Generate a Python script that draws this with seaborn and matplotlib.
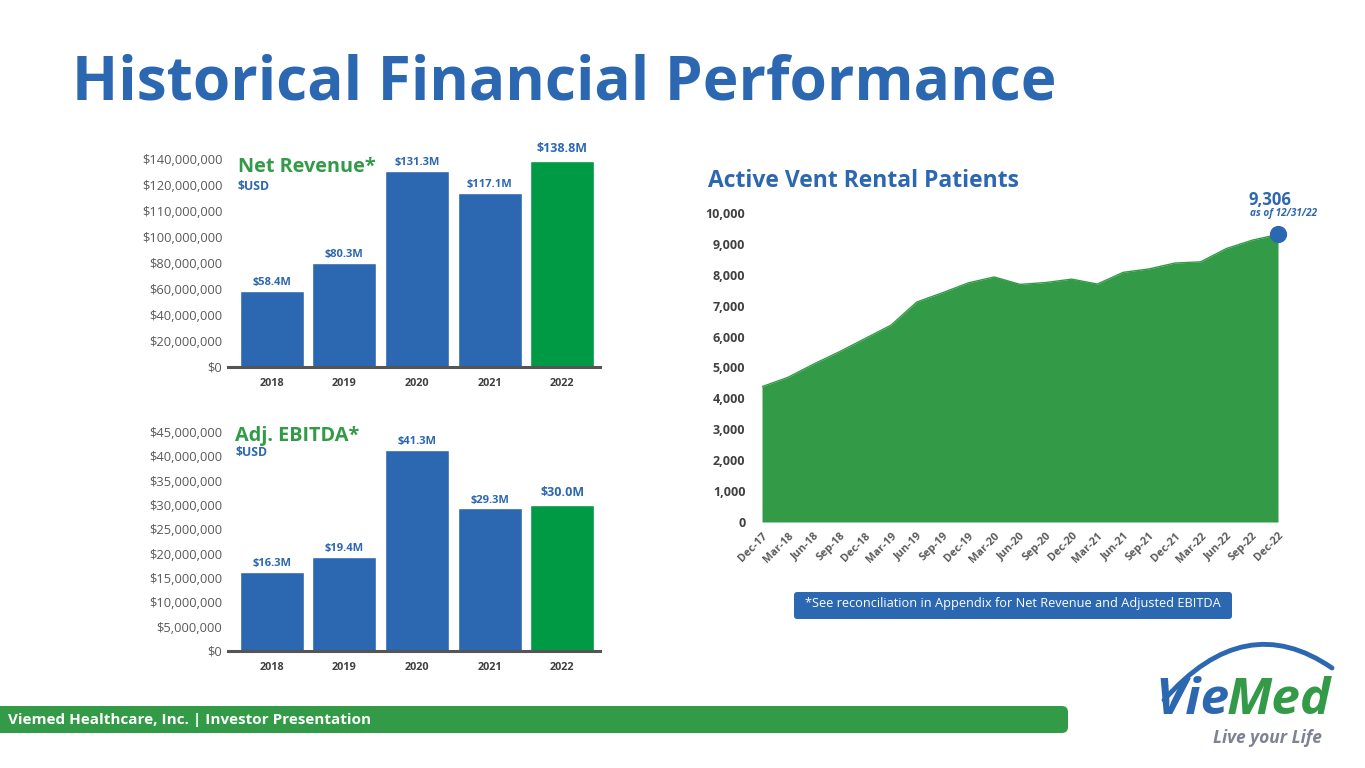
import numpy as np
import seaborn as sns
import matplotlib.pyplot as plt
from matplotlib.patches import FancyBboxPatch, PathPatch
from matplotlib.path import Path

sns.set_theme(style="white")
plt.rcParams['font.family'] = ['Open Sans', 'DejaVu Sans']

# data
years = ["2018", "2019", "2020", "2021", "2022"]
revenue_m = [58.4, 80.3, 131.3, 117.1, 138.8]
revenue_labels = ["$58.4M", "$80.3M", "$131.3M", "$117.1M", "$138.8M"]
ebitda_m = [16.3, 19.4, 41.3, 29.3, 30.0]
ebitda_labels = ["$16.3M", "$19.4M", "$41.3M", "$29.3M", "$30.0M"]

quarters = ["Dec-17", "Mar-18", "Jun-18", "Sep-18", "Dec-18", "Mar-19", "Jun-19",
            "Sep-19", "Dec-19", "Mar-20", "Jun-20", "Sep-20", "Dec-20", "Mar-21",
            "Jun-21", "Sep-21", "Dec-21", "Mar-22", "Jun-22", "Sep-22", "Dec-22"]
patients = [4380, 4680, 5110, 5510, 5940, 6370, 7120, 7420, 7740, 7930, 7690,
            7750, 7860, 7700, 8080, 8190, 8380, 8420, 8850, 9120, 9306]

# revenue axis labels as printed on the slide (uneven steps)
rev_ticks = [0, 20, 40, 60, 80, 100, 110, 120, 140]

BLUE = "#2C67B1"
GREEN = "#339B48"
BAR_GREEN = "#009A44"
GRAY = "#595959"
DARK = "#404040"

W, H = 1365, 768
fig = plt.figure(figsize=(W / 100, H / 100), dpi=100)


def px_axes(left, top, right, bottom):
    return fig.add_axes([left / W, 1 - bottom / H, (right - left) / W, (bottom - top) / H])


bar_colors = [BLUE, BLUE, BLUE, BLUE, BAR_GREEN]


def bar_panel(ax, vals, labels, head, head_xy, usd_xy):
    sns.barplot(x=years, y=vals, hue=years, palette=bar_colors, legend=False,
                width=0.88, saturation=1, ax=ax)
    for i, cont in enumerate(ax.containers):
        last = i == len(ax.containers) - 1
        ax.bar_label(cont, labels=[labels[i]], padding=4 if last else 2,
                     fontsize=9 if last else 8, fontweight="bold", color=BLUE)
    ax.set_xlim(-0.6, 4.52)
    ax.set_xlabel("")
    ax.set_ylabel("")
    for s in ["top", "right", "left"]:
        ax.spines[s].set_visible(False)
    ax.spines["bottom"].set_color("#555555")
    ax.spines["bottom"].set_linewidth(2.2)
    ax.tick_params(axis="x", length=0, pad=8, labelsize=7.8, labelcolor=DARK)
    for t in ax.get_xticklabels():
        t.set_fontweight("bold")
    ax.tick_params(axis="y", length=0, pad=4, labelsize=9.3, labelcolor=GRAY)
    ax.patch.set_visible(False)
    fig.text(head_xy[0] / W, 1 - head_xy[1] / H, head, color=GREEN, fontsize=14.3,
             fontweight="bold", va="center")
    fig.text(usd_xy[0] / W, 1 - usd_xy[1] / H, "$USD", color=BLUE, fontsize=8.8,
             fontweight="bold", va="center")


# --- Net revenue (axis labels are unevenly stepped) ---
kv = [0, 100, 110, 120, 140, 160]
kp = [0, 5, 6, 7, 8, 9]
ax1 = px_axes(228, 145, 600, 367)
bar_panel(ax1, revenue_m, revenue_labels, "Net Revenue*", (238, 167), (237, 186))
ax1.set_yscale("function", functions=(lambda v: np.interp(v, kv, kp),
                                      lambda p: np.interp(p, kp, kv)))
ax1.set_ylim(0, 151)
ax1.set_yticks(rev_ticks)
ax1.set_yticklabels(["${:,.0f}".format(t * 1e6) for t in rev_ticks])
ax1.set_xlim(-0.6, 4.52)

# --- Adj. EBITDA ---
ax2 = px_axes(228, 425, 600, 651)
bar_panel(ax2, ebitda_m, ebitda_labels, "Adj. EBITDA*", (235, 436), (235, 453))
eb_ticks = list(range(0, 50, 5))
ax2.set_ylim(0, 46.4)
ax2.set_yticks(eb_ticks)
ax2.set_yticklabels(["${:,.0f}".format(t * 1e6) for t in eb_ticks])

# --- Active vent patients ---
ax3 = px_axes(762, 213, 1278, 522)
xq = np.arange(len(quarters))
ax3.fill_between(xq, patients, color=GREEN, lw=0)
sns.lineplot(x=xq, y=patients, color=GREEN, lw=1, ax=ax3)
ax3.scatter([xq[-1]], [patients[-1]], s=130, color=BLUE, zorder=5, clip_on=False)
ax3.set_xlim(0, len(quarters) - 1)
ax3.set_ylim(0, 10000)
ax3.set_xticks(xq)
ax3.set_xticklabels(quarters, rotation=45, ha="right", rotation_mode="anchor")
ax3.set_yticks(range(0, 11000, 1000))
ax3.set_yticklabels(["{:,}".format(v) for v in range(0, 11000, 1000)])
ax3.tick_params(axis="x", length=0, pad=6, labelsize=7.8, labelcolor="#5a5a5a")
ax3.tick_params(axis="y", length=0, pad=12, labelsize=9, labelcolor=DARK)
for t in ax3.get_xticklabels() + ax3.get_yticklabels():
    t.set_fontweight("bold")
for s in ax3.spines.values():
    s.set_visible(False)
ax3.patch.set_visible(False)
ax3.annotate("{:,}".format(patients[-1]), (xq[-1], patients[-1]), xytext=(-6, 25),
             textcoords="offset points", ha="center", va="center", fontsize=12,
             fontweight="bold", color=BLUE)
ax3.annotate("as of 12/31/22", (xq[-1], patients[-1]), xytext=(4, 15),
             textcoords="offset points", ha="center", va="center", fontsize=7.2,
             fontweight="bold", style="italic", color=BLUE)
fig.text(708 / W, 1 - 181 / H, "Active Vent Rental Patients", color=BLUE,
         fontsize=16.5, fontweight="bold", va="center")

# --- slide decoration ---
ov = fig.add_axes([0, 0, 1, 1], zorder=-1)
ov.set_xlim(0, W)
ov.set_ylim(H, 0)
ov.axis("off")
ov.text(72, 100, "Historical Financial Performance", color=BLUE, fontsize=43.5,
        fontweight="bold", va="baseline")
ov.add_patch(FancyBboxPatch((-30, 706), 1098, 27, boxstyle="round,pad=0,rounding_size=6",
                            fc=GREEN, ec="none"))
ov.text(8, 720, "Viemed Healthcare, Inc. | Investor Presentation", color="white",
        fontsize=11, fontweight="bold", va="center")
ov.add_patch(FancyBboxPatch((794, 592), 438, 27, boxstyle="round,pad=0,rounding_size=3",
                            fc=BLUE, ec="none"))
ov.text(1013, 604, "*See reconciliation in Appendix for Net Revenue and Adjusted EBITDA",
        color="white", fontsize=9.2, ha="center", va="center")

# logo
arc = Path([(1164, 700), (1245, 608), (1332, 668)], [Path.MOVETO, Path.CURVE3, Path.CURVE3])
ov.add_patch(PathPatch(arc, fc="none", ec=BLUE, lw=3.5, capstyle="round"))
vie = ov.text(1155, 714, "Vie", color=BLUE, fontsize=37, fontweight="bold",
              style="italic", va="baseline")
ov.annotate("Med", xy=(1, 0), xycoords=vie, xytext=(-2, 0), textcoords="offset points",
            color=GREEN, fontsize=37, fontweight="bold", style="italic", va="bottom")
ov.text(1322, 743, "Live your Life", color="#7E8291", fontsize=12.5, fontweight="bold",
        style="italic", ha="right", va="baseline")

fig.savefig("out.png", dpi=100)
